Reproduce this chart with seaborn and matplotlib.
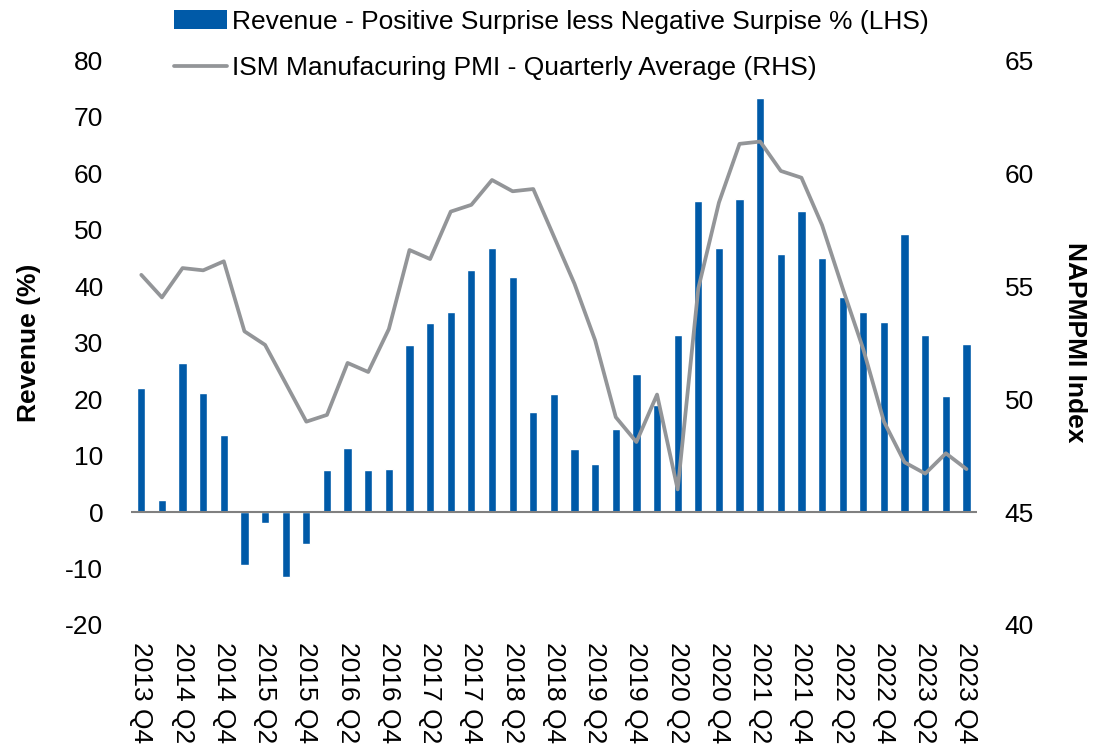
import numpy as np
import pandas as pd
import matplotlib
matplotlib.use("Agg")
import matplotlib.pyplot as plt
import seaborn as sns
from matplotlib.patches import Patch
from matplotlib.lines import Line2D

sns.set_style("white")
plt.rcParams['font.family'] = ['Liberation Sans', 'DejaVu Sans']
plt.rcParams['axes.unicode_minus'] = False
plt.rcParams['text.color'] = 'black'
plt.rcParams['xtick.color'] = 'black'
plt.rcParams['ytick.color'] = 'black'
plt.rcParams['axes.labelcolor'] = 'black'

# ---- data ----
quarters = ["2013 Q4"] + [f"{y} Q{q}" for y in range(2014, 2024) for q in (1, 2, 3, 4)]

revenue = [22.0, 2.2, 26.4, 21.0, 13.6, -9.4, -2.0, -11.5, -5.6, 7.5,
           11.3, 7.4, 7.7, 29.6, 33.5, 35.5, 42.8, 46.8, 41.7, 17.7,
           20.9, 11.1, 8.5, 14.7, 24.5, 18.9, 31.3, 55.1, 46.8, 55.5,
           73.4, 45.7, 53.3, 45.0, 38.1, 35.5, 33.7, 49.3, 31.3, 20.6,
           29.8]

pmi = [55.5, 54.5, 55.8, 55.7, 56.1, 53.0, 52.4, 50.7, 49.0, 49.3,
       51.6, 51.2, 53.1, 56.6, 56.2, 58.3, 58.6, 59.7, 59.2, 59.3,
       57.2, 55.1, 52.6, 49.2, 48.1, 50.2, 46.0, 54.9, 58.7, 61.3,
       61.4, 60.1, 59.8, 57.7, 54.9, 52.2, 49.0, 47.2, 46.7, 47.6,
       46.9]

bar_label = "Revenue - Positive Surprise less Negative Surpise % (LHS)"
line_label = "ISM Manufacuring PMI - Quarterly Average (RHS)"

bar_color = "#005AA8"
line_color = "#939598"
FS = 19

df = pd.DataFrame({"quarter": quarters, "revenue": revenue, "pmi": pmi,
                   "pos": np.arange(len(quarters))})

fig = plt.figure(figsize=(11.1, 7.44), dpi=100)
ax = fig.add_axes([0.118, 0.160, 0.762, 0.759])

sns.barplot(data=df, x="quarter", y="revenue", color=bar_color, width=0.4,
            saturation=1, ax=ax, order=quarters)
ax.axhline(0, color="#808080", lw=1.5, zorder=3)
ax.set_ylim(-20, 80)
ax.set_yticks(np.arange(-20, 81, 10))
ax.set_xlim(-0.5, len(quarters) - 0.5)
ax.set_xticks(np.arange(0, len(quarters), 2))
ax.set_xticklabels(quarters[::2], rotation=-90)
ax.set_xlabel("")
ax.set_ylabel("Revenue (%)", fontsize=FS, fontweight="bold", labelpad=17)
ax.tick_params(axis="y", length=0, labelsize=FS, pad=20)
ax.tick_params(axis="x", length=0, labelsize=FS, pad=12)

ax2 = ax.twinx()
sns.lineplot(data=df, x="pos", y="pmi", color=line_color, lw=2.7, ax=ax2)
ax2.set_ylim(40, 65)
ax2.set_yticks(np.arange(40, 66, 5))
ax2.set_ylabel("NAPMPMI Index", fontsize=FS, fontweight="bold", rotation=-90,
               labelpad=38)
ax2.tick_params(axis="y", length=0, labelsize=FS, pad=20)
ax2.set_xlim(-0.5, len(quarters) - 0.5)

for a in (ax, ax2):
    for s in a.spines.values():
        s.set_visible(False)

handles = [Patch(facecolor=bar_color, edgecolor="none"),
           Line2D([0], [0], color=line_color, lw=2.7)]
fig.legend(handles, [bar_label, line_label], loc="upper left",
           bbox_to_anchor=(0.138, 1.015), frameon=False, fontsize=FS,
           handlelength=2.0, handletextpad=0.2, labelspacing=0.85,
           borderpad=0.3)

fig.savefig("out.png", dpi=100)
